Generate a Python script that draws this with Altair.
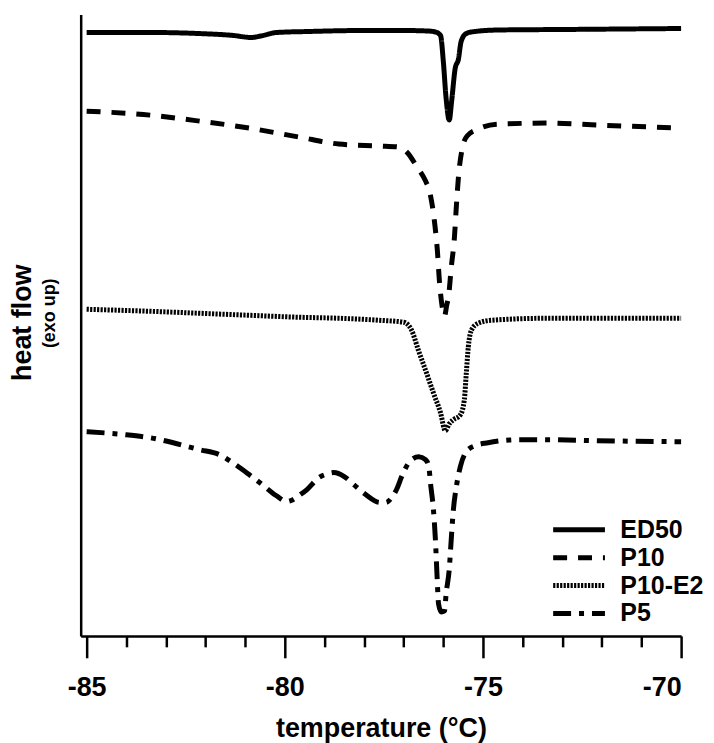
import altair as alt
import pandas as pd

# temperature (°C) and heat flow (arbitrary units, exo up)
T_ED50 = [-85, -83.4, -82.2, -81.3, -80.85, -80.6, -80.2, -79.4, -78, -77, -76.4, -76.2, -76.07,
          -76.0, -75.93, -75.85, -75.79, -75.7, -75.62, -75.55, -75.42, -75.2, -74.6, -73, -70]
HF_ED50 = [60.6, 60.6, 60.5, 60.3, 60.1, 60.25, 60.6, 60.7, 60.8, 60.8, 60.75, 60.65, 60.3,
           57.7, 54.0, 51.8, 53.7, 57.0, 57.9, 59.7, 60.5, 60.7, 60.85, 60.9, 61.0]

T_P10 = [-85, -83.4, -82.15, -80.9, -79.64, -78.64, -77.63, -77.13, -76.9, -76.68,
         -76.45, -76.35, -76.22, -76.15, -76.10, -76.03, -75.97, -75.91, -75.87, -75.80,
         -75.72, -75.67, -75.62, -75.52, -75.4, -75.12, -74.62, -73.36, -72.1, -70]
HF_P10 = [52.7, 52.3, 51.7, 51.0, 50.1, 49.4, 49.2, 49.1, 48.5, 47.2,
          45.7, 44.7, 41.5, 38.7, 35.7, 33.1, 32.1, 33.3, 34.0, 37.0,
          40.0, 43.2, 46.0, 49.0, 50.2, 50.9, 51.4, 51.5, 51.3, 51.0]

T_P10E2 = [-85, -83.4, -82.15, -80.9, -79.64, -78.64, -77.63, -77.0, -76.8, -76.63,
           -76.45, -76.25, -76.07, -75.95, -75.85, -75.75, -75.57, -75.47, -75.42, -75.37,
           -75.29, -75.12, -74.79, -73.36, -70]
HF_P10E2 = [32.8, 32.6, 32.4, 32.2, 32.0, 31.9, 31.7, 31.5, 30.7, 28.7,
            26.7, 24.4, 22.4, 20.6, 21.3, 21.7, 22.2, 23.7, 26.4, 29.0,
            30.7, 31.4, 31.7, 31.9, 31.9]

T_P5 = [-85, -84.0, -83.4, -82.15, -81.65, -81.32, -80.9, -80.57, -80.22, -79.95,
        -79.84, -79.64, -79.44, -79.14, -78.9, -78.76, -78.5, -78.26, -77.96, -77.6,
        -77.45, -77.3, -77.18, -77.05, -76.85, -76.62, -76.45, -76.37, -76.32, -76.25,
        -76.2, -76.16, -76.12, -76.05, -75.97, -75.93, -75.85, -75.8, -75.75, -75.67,
        -75.57, -75.42, -75.2, -74.87, -74.12, -73.36, -72.1, -70]
HF_P5 = [20.5, 20.2, 19.9, 18.7, 18.2, 17.4, 16.2, 15.2, 14.1, 13.5,
         13.6, 14.1, 14.7, 15.9, 16.3, 16.4, 16.0, 15.2, 14.2, 13.4,
         13.4, 13.9, 14.7, 16.0, 17.5, 18.0, 17.7, 17.1, 15.2, 12.7,
         9.7, 6.2, 3.2, 2.4, 2.5, 4.2, 6.7, 9.7, 12.5, 15.0,
         17.0, 18.5, 19.1, 19.4, 19.7, 19.7, 19.6, 19.5]

SERIES = ["ED50", "P10", "P10-E2", "P5"]
DASHES = [[1, 0], [14, 11], [2.2, 1.3], [18, 8, 5, 8]]
TICKS = list(range(-85, -69))
X_DOMAIN = [-85.15, -70]
Y_DOMAIN = [0, 62.4]

frames = []
for name, t, h in [("ED50", T_ED50, HF_ED50), ("P10", T_P10, HF_P10),
                   ("P10-E2", T_P10E2, HF_P10E2), ("P5", T_P5, HF_P5)]:
    frames.append(pd.DataFrame({"series": name, "temp": t, "hf": h}))
df = pd.concat(frames, ignore_index=True)

FONT = "Liberation Sans"

lines = alt.Chart(df).mark_line(color="black", strokeWidth=5, interpolate="monotone").encode(
    x=alt.X("temp:Q",
            scale=alt.Scale(domain=X_DOMAIN, nice=False, zero=False),
            axis=alt.Axis(values=TICKS,
                          tickSize={"condition": {"test": "datum.value % 5 === 0", "value": 22}, "value": 11},
                          labelExpr="datum.value % 5 === 0 ? '' + datum.value : ''",
                          title="temperature (°C)", grid=False,
                          labelPadding=17, titlePadding=15)),
    y=alt.Y("hf:Q",
            scale=alt.Scale(domain=Y_DOMAIN, nice=False, zero=False),
            axis=alt.Axis(ticks=False, labels=False, grid=False, title="heat flow",
                          titleX=-58, titleY=309, titleAngle=270,
                          titleAlign="center", titleBaseline="middle")),
    strokeDash=alt.StrokeDash("series:N",
                              scale=alt.Scale(domain=SERIES, range=DASHES),
                              sort=SERIES,
                              legend=alt.Legend(title=None, orient="none",
                                                legendX=488, legendY=505,
                                                symbolType="M-2.6,0H2.6", symbolSize=400,
                                                symbolStrokeWidth=5, symbolStrokeColor="black",
                                                symbolFillColor="transparent",
                                                labelFont=FONT, labelFontWeight="bold",
                                                labelFontSize=25, labelColor="black",
                                                labelOffset=29, rowPadding=2)),
    detail="series:N",
)

sub = alt.Chart(pd.DataFrame({"t": ["(exo up)"]})).mark_text(
    angle=270, font=FONT, fontWeight="bold", fontSize=18, color="black",
    align="center", baseline="middle"
).encode(text="t:N", x=alt.value(-31), y=alt.value(300))

chart = alt.layer(lines, sub).properties(
    width=603, height=624,
    autosize="none",
    padding={"left": 73, "top": 5, "right": 25, "bottom": 110},
).configure_view(stroke=None).configure_axis(
    domainColor="black", domainWidth=2.5, tickColor="black", tickWidth=2.5,
    labelFont=FONT, labelFontWeight="bold", labelFontSize=27, labelColor="black",
    titleFont=FONT, titleFontWeight="bold", titleFontSize=27, titleColor="black",
)

chart.save("out.html", embed_options={"renderer": "svg", "actions": False})
